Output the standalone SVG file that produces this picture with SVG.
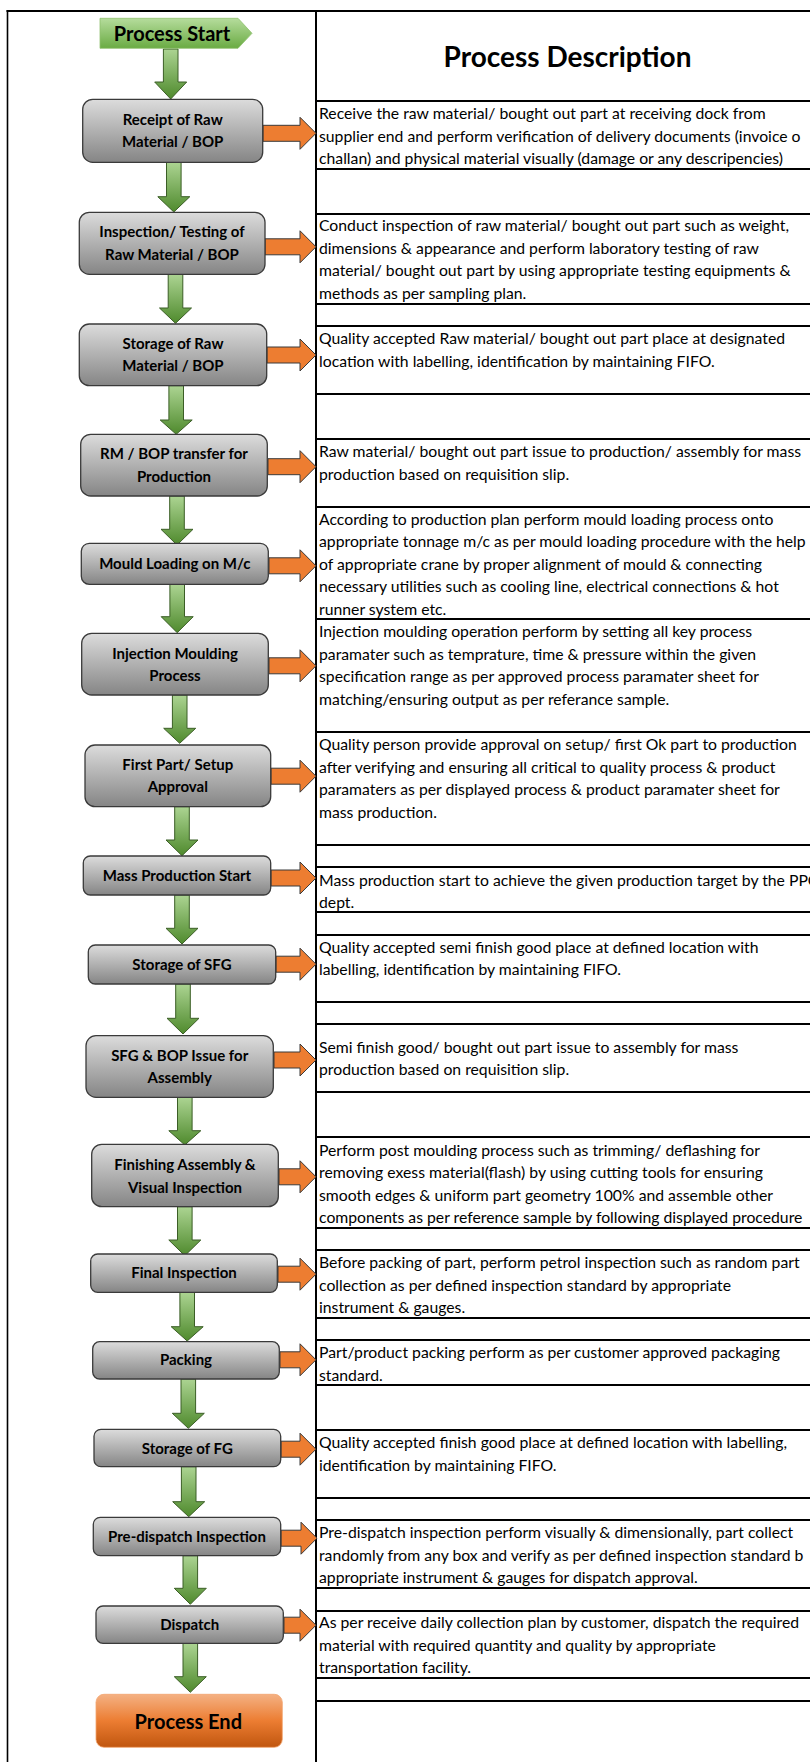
<svg xmlns="http://www.w3.org/2000/svg" width="810" height="1762" viewBox="0 0 810 1762">
<style>
.lbl{font-family:Lato,'Noto Sans',sans-serif;font-weight:bold;font-size:15px;text-anchor:middle;fill:#000}
.big{font-family:Lato,'Noto Sans',sans-serif;font-weight:bold;font-size:20px;text-anchor:middle;fill:#000}
.title{font-family:Lato,'Noto Sans',sans-serif;font-weight:bold;font-size:28px;text-anchor:middle;fill:#000}
.desc{font-family:Lato,'Noto Sans',sans-serif;font-size:15.75px;fill:#000}
.box{fill:url(#gray);stroke:#3a3a3a;stroke-width:1.3}
.g{fill:url(#green);stroke:#3b5e26;stroke-width:1}
.o{fill:#ed7d31;stroke:#3a3a3a;stroke-width:1}
.grid{stroke:#000;stroke-width:2;fill:none}
</style>
<defs>
<linearGradient id="gray" x1="0" y1="0" x2="0" y2="1">
<stop offset="0" stop-color="#dcdcdc"/><stop offset="1" stop-color="#858585"/>
</linearGradient>
<linearGradient id="green" x1="0" y1="0" x2="0" y2="1">
<stop offset="0" stop-color="#acd492"/><stop offset="1" stop-color="#4f8a2d"/>
</linearGradient>
<linearGradient id="startg" x1="0" y1="0" x2="0" y2="1">
<stop offset="0" stop-color="#b5dc9c"/><stop offset="1" stop-color="#6aab43"/>
</linearGradient>
<linearGradient id="endg" x1="0" y1="0" x2="0" y2="1">
<stop offset="0" stop-color="#f4b183"/><stop offset="0.5" stop-color="#ec7d32"/><stop offset="1" stop-color="#c0560f"/>
</linearGradient>
</defs>
<rect width="810" height="1762" fill="#fff"/>
<g id="frame" class="grid">
<line x1="6.5" y1="11" x2="810" y2="11"/>
<line x1="7.5" y1="10" x2="7.5" y2="1762" stroke-width="1.6"/>
<line x1="316" y1="10" x2="316" y2="1762"/>
<path d="M316 101H810M316 169H810M316 214H810M316 304H810M316 326H810M316 394H810M316 439H810M316 507H810M316 619H810M316 732H810M316 845H810M316 867H810M316 912H810M316 935H810M316 1002H810M316 1024H810M316 1092H810M316 1137H810M316 1228H810M316 1250H810M316 1318H810M316 1340H810M316 1385H810M316 1430H810M316 1498H810M316 1520H810M316 1588H810M316 1611H810M316 1678H810M316 1701H810"/>
</g>
<text id="title" class="title" x="567.5" y="67">Process Description</text>
<g id="connectors">
<polygon class="g" points="163.4,49 178,49 178,82 186.7,82 170.7,99 154.7,82 163.4,82"/>
<polygon class="g" points="166.5,162.3 181.1,162.3 181.1,196.7 189.8,196.7 173.8,212 157.8,196.7 166.5,196.7"/>
<polygon class="g" points="168.2,274.3 182.8,274.3 182.8,308 191.5,308 175.5,323.3 159.5,308 168.2,308"/>
<polygon class="g" points="168.9,385.7 183.5,385.7 183.5,420 192.2,420 176.2,434.3 160.2,420 168.9,420"/>
<polygon class="g" points="169.7,496 184.3,496 184.3,529.3 193,529.3 177,545 161,529.3 169.7,529.3"/>
<polygon class="g" points="169.9,584.3 184.5,584.3 184.5,616.7 193.2,616.7 177.2,632.7 161.2,616.7 169.9,616.7"/>
<polygon class="g" points="172.4,695 187,695 187,728.3 195.7,728.3 179.7,743.3 163.7,728.3 172.4,728.3"/>
<polygon class="g" points="174.7,806.7 189.3,806.7 189.3,840 198,840 182,855.7 166,840 174.7,840"/>
<polygon class="g" points="174.7,895 189.3,895 189.3,928.3 198,928.3 182,944 166,928.3 174.7,928.3"/>
<polygon class="g" points="175.7,984 190.3,984 190.3,1018.3 199,1018.3 183,1034 167,1018.3 175.7,1018.3"/>
<polygon class="g" points="177.5,1097.3 192.1,1097.3 192.1,1130.7 200.8,1130.7 184.8,1145 168.8,1130.7 177.5,1130.7"/>
<polygon class="g" points="177.5,1206.7 192.1,1206.7 192.1,1240 200.8,1240 184.8,1255.7 168.8,1240 177.5,1240"/>
<polygon class="g" points="179.9,1292.3 194.5,1292.3 194.5,1326.7 203.2,1326.7 187.2,1341 171.2,1326.7 179.9,1326.7"/>
<polygon class="g" points="181,1379 195.6,1379 195.6,1413.3 204.3,1413.3 188.3,1428.3 172.3,1413.3 181,1413.3"/>
<polygon class="g" points="181.4,1466.7 196,1466.7 196,1501.7 204.7,1501.7 188.7,1516.7 172.7,1501.7 181.4,1501.7"/>
<polygon class="g" points="183,1555.7 197.6,1555.7 197.6,1588.3 206.3,1588.3 190.3,1604.3 174.3,1588.3 183,1588.3"/>
<polygon class="g" points="183,1643.3 197.6,1643.3 197.6,1676.7 206.3,1676.7 190.3,1692.3 174.3,1676.7 183,1676.7"/>
<polygon class="o" points="263,125.3 300,125.3 300,117.3 316,133.3 300,149.3 300,141.3 263,141.3"/>
<polygon class="o" points="265,238.8 300,238.8 300,230.8 316,246.8 300,262.8 300,254.8 265,254.8"/>
<polygon class="o" points="267,347 300,347 300,339 316,355 300,371 300,363 267,363"/>
<polygon class="o" points="268,458.7 300,458.7 300,450.7 316,466.7 300,482.7 300,474.7 268,474.7"/>
<polygon class="o" points="269,557.8 300,557.8 300,549.8 316,565.8 300,581.8 300,573.8 269,573.8"/>
<polygon class="o" points="269,657.8 300,657.8 300,649.8 316,665.8 300,681.8 300,673.8 269,673.8"/>
<polygon class="o" points="271,768.2 300,768.2 300,760.2 316,776.2 300,792.2 300,784.2 271,784.2"/>
<polygon class="o" points="271,870 300,870 300,862 316,878 300,894 300,886 271,886"/>
<polygon class="o" points="276,956.2 300,956.2 300,948.2 316,964.2 300,980.2 300,972.2 276,972.2"/>
<polygon class="o" points="274,1052 300,1052 300,1044 316,1060 300,1076 300,1068 274,1068"/>
<polygon class="o" points="279,1168.8 300,1168.8 300,1160.8 316,1176.8 300,1192.8 300,1184.8 279,1184.8"/>
<polygon class="o" points="278,1266.2 300,1266.2 300,1258.2 316,1274.2 300,1290.2 300,1282.2 278,1282.2"/>
<polygon class="o" points="280,1351.8 300,1351.8 300,1343.8 316,1359.8 300,1375.8 300,1367.8 280,1367.8"/>
<polygon class="o" points="281,1441.2 300,1441.2 300,1433.2 316,1449.2 300,1465.2 300,1457.2 281,1457.2"/>
<polygon class="o" points="281,1530.2 301,1530.2 301,1522.2 317,1538.2 301,1554.2 301,1546.2 281,1546.2"/>
<polygon class="o" points="284,1617.2 300,1617.2 300,1609.2 316,1625.2 300,1641.2 300,1633.2 284,1633.2"/>
</g>
<g id="start">
<path d="M100 18.3H238L252 33.3L238 48.3H100Z" fill="url(#startg)" stroke="#8fc06e" stroke-width="0.8"/>
<text class="big" x="172" y="40.5">Process Start</text>
</g>
<g id="n1"><rect class="box" x="82.7" y="99.3" width="180" height="63" rx="10"/><text class="lbl" x="172.7" y="125.3">Receipt of Raw</text><text class="lbl" x="172.7" y="147">Material / BOP</text></g>
<g id="n2"><rect class="box" x="79.3" y="212.3" width="185.7" height="62" rx="10"/><text class="lbl" x="172" y="237">Inspection/ Testing of</text><text class="lbl" x="172" y="260.3">Raw Material / BOP</text></g>
<g id="n3"><rect class="box" x="79.3" y="324" width="187.4" height="61.7" rx="10"/><text class="lbl" x="173" y="348.6">Storage of Raw</text><text class="lbl" x="173" y="371">Material / BOP</text></g>
<g id="n4"><rect class="box" x="80.7" y="434.3" width="186.6" height="61.7" rx="10"/><text class="lbl" x="174" y="459.3">RM / BOP transfer for</text><text class="lbl" x="174" y="482">Production</text></g>
<g id="n5"><rect class="box" x="81.3" y="543.3" width="187" height="41" rx="8"/><text class="lbl" x="174.8" y="568.6">Mould Loading on M/c</text></g>
<g id="n6"><rect class="box" x="81.7" y="633.3" width="186.6" height="61.7" rx="10"/><text class="lbl" x="175" y="658.6">Injection Moulding</text><text class="lbl" x="175" y="681">Process</text></g>
<g id="n7"><rect class="box" x="85" y="745" width="185.7" height="61.7" rx="10"/><text class="lbl" x="177.8" y="770.3">First Part/ Setup</text><text class="lbl" x="177.8" y="792">Approval</text></g>
<g id="n8"><rect class="box" x="83.3" y="856" width="187.4" height="39" rx="7"/><text class="lbl" x="177" y="881">Mass Production Start</text></g>
<g id="n9"><rect class="box" x="88.3" y="945" width="187.4" height="39" rx="7"/><text class="lbl" x="182" y="970.3">Storage of SFG</text></g>
<g id="n10"><rect class="box" x="86" y="1035.7" width="187.3" height="61.6" rx="10"/><text class="lbl" x="179.7" y="1061.3">SFG &amp; BOP Issue for</text><text class="lbl" x="179.7" y="1083">Assembly</text></g>
<g id="n11"><rect class="box" x="91.7" y="1144.3" width="186.6" height="62.4" rx="10"/><text class="lbl" x="185" y="1170.3">Finishing Assembly &amp;</text><text class="lbl" x="185" y="1193">Visual Inspection</text></g>
<g id="n12"><rect class="box" x="90.7" y="1254" width="186.6" height="38.3" rx="7"/><text class="lbl" x="184" y="1278">Final Inspection</text></g>
<g id="n13"><rect class="box" x="92.7" y="1341.7" width="186.6" height="37.3" rx="7"/><text class="lbl" x="186" y="1365.3">Packing</text></g>
<g id="n14"><rect class="box" x="94" y="1429.3" width="186.7" height="37.4" rx="7"/><text class="lbl" x="187.3" y="1454.3">Storage of FG</text></g>
<g id="n15"><rect class="box" x="93.3" y="1517.3" width="187.4" height="38.4" rx="7"/><text class="lbl" x="187" y="1542">Pre-dispatch Inspection</text></g>
<g id="n16"><rect class="box" x="96" y="1606" width="187.3" height="37.3" rx="7"/><text class="lbl" x="189.7" y="1630.3">Dispatch</text></g>
<g id="end"><rect x="96" y="1694.3" width="186.3" height="53" rx="8" fill="url(#endg)" stroke="#f2a56e" stroke-width="0.8"/><text class="big" x="188.3" y="1729.3">Process End</text></g>
<g id="descriptions" class="desc">
<text x="319" y="119"><tspan x="319">Receive the raw material/ bought out part at receiving dock from</tspan><tspan x="319" dy="22.5">supplier end and perform verification of delivery documents (invoice o</tspan><tspan x="319" dy="22.5">challan) and physical material visually (damage or any descripencies)</tspan></text>
<text x="319" y="231.3"><tspan x="319">Conduct inspection of raw material/ bought out part such as weight,</tspan><tspan x="319" dy="22.5">dimensions &amp; appearance and perform laboratory testing of raw</tspan><tspan x="319" dy="22.5">material/ bought out part by using appropriate testing equipments &amp;</tspan><tspan x="319" dy="22.5">methods as per sampling plan.</tspan></text>
<text x="319" y="344.3"><tspan x="319">Quality accepted Raw material/ bought out part place at designated</tspan><tspan x="319" dy="22.5">location with labelling, identification by maintaining FIFO.</tspan></text>
<text x="319" y="457.3"><tspan x="319">Raw material/ bought out part issue to production/ assembly for mass</tspan><tspan x="319" dy="22.5">production based on requisition slip.</tspan></text>
<text x="319" y="524.7"><tspan x="319">According to production plan perform mould loading process onto</tspan><tspan x="319" dy="22.5">appropriate tonnage m/c as per mould loading procedure with the help</tspan><tspan x="319" dy="22.5">of appropriate crane by proper alignment of mould &amp; connecting</tspan><tspan x="319" dy="22.5">necessary utilities such as cooling line, electrical connections &amp; hot</tspan><tspan x="319" dy="22.5">runner system etc.</tspan></text>
<text x="319" y="637.3"><tspan x="319">Injection moulding operation perform by setting all key process</tspan><tspan x="319" dy="22.5">paramater such as temprature, time &amp; pressure within the given</tspan><tspan x="319" dy="22.5">specification range as per approved process paramater sheet for</tspan><tspan x="319" dy="22.5">matching/ensuring output as per referance sample.</tspan></text>
<text x="319" y="750"><tspan x="319">Quality person provide approval on setup/ first Ok part to production</tspan><tspan x="319" dy="22.5">after verifying and ensuring all critical to quality process &amp; product</tspan><tspan x="319" dy="22.5">paramaters as per displayed process &amp; product paramater sheet for</tspan><tspan x="319" dy="22.5">mass production.</tspan></text>
<text x="319" y="885.7"><tspan x="319">Mass production start to achieve the given production target by the PPC</tspan><tspan x="319" dy="22.5">dept.</tspan></text>
<text x="319" y="952.7"><tspan x="319">Quality accepted semi finish good place at defined location with</tspan><tspan x="319" dy="22.5">labelling, identification by maintaining FIFO.</tspan></text>
<text x="319" y="1052.7"><tspan x="319">Semi finish good/ bought out part issue to assembly for mass</tspan><tspan x="319" dy="22.5">production based on requisition slip.</tspan></text>
<text x="319" y="1155.7"><tspan x="319">Perform post moulding process such as trimming/ deflashing for</tspan><tspan x="319" dy="22.5">removing exess material(flash) by using cutting tools for ensuring</tspan><tspan x="319" dy="22.5">smooth edges &amp; uniform part geometry 100% and assemble other</tspan><tspan x="319" dy="22.5">components as per reference sample by following displayed procedure</tspan></text>
<text x="319" y="1268.3"><tspan x="319">Before packing of part, perform petrol inspection such as random part</tspan><tspan x="319" dy="22.5">collection as per defined inspection standard by appropriate</tspan><tspan x="319" dy="22.5">instrument &amp; gauges.</tspan></text>
<text x="319" y="1358.3"><tspan x="319">Part/product packing perform as per customer approved packaging</tspan><tspan x="319" dy="22.5">standard.</tspan></text>
<text x="319" y="1448.3"><tspan x="319">Quality accepted finish good place at defined location with labelling,</tspan><tspan x="319" dy="22.5">identification by maintaining FIFO.</tspan></text>
<text x="319" y="1538.3"><tspan x="319">Pre-dispatch inspection perform visually &amp; dimensionally, part collect</tspan><tspan x="319" dy="22.5">randomly from any box and verify as per defined inspection standard b</tspan><tspan x="319" dy="22.5">appropriate instrument &amp; gauges for dispatch approval.</tspan></text>
<text x="319" y="1628.3"><tspan x="319">As per receive daily collection plan by customer, dispatch the required</tspan><tspan x="319" dy="22.5">material with required quantity and quality by appropriate</tspan><tspan x="319" dy="22.5">transportation facility.</tspan></text>
</g>
</svg>
